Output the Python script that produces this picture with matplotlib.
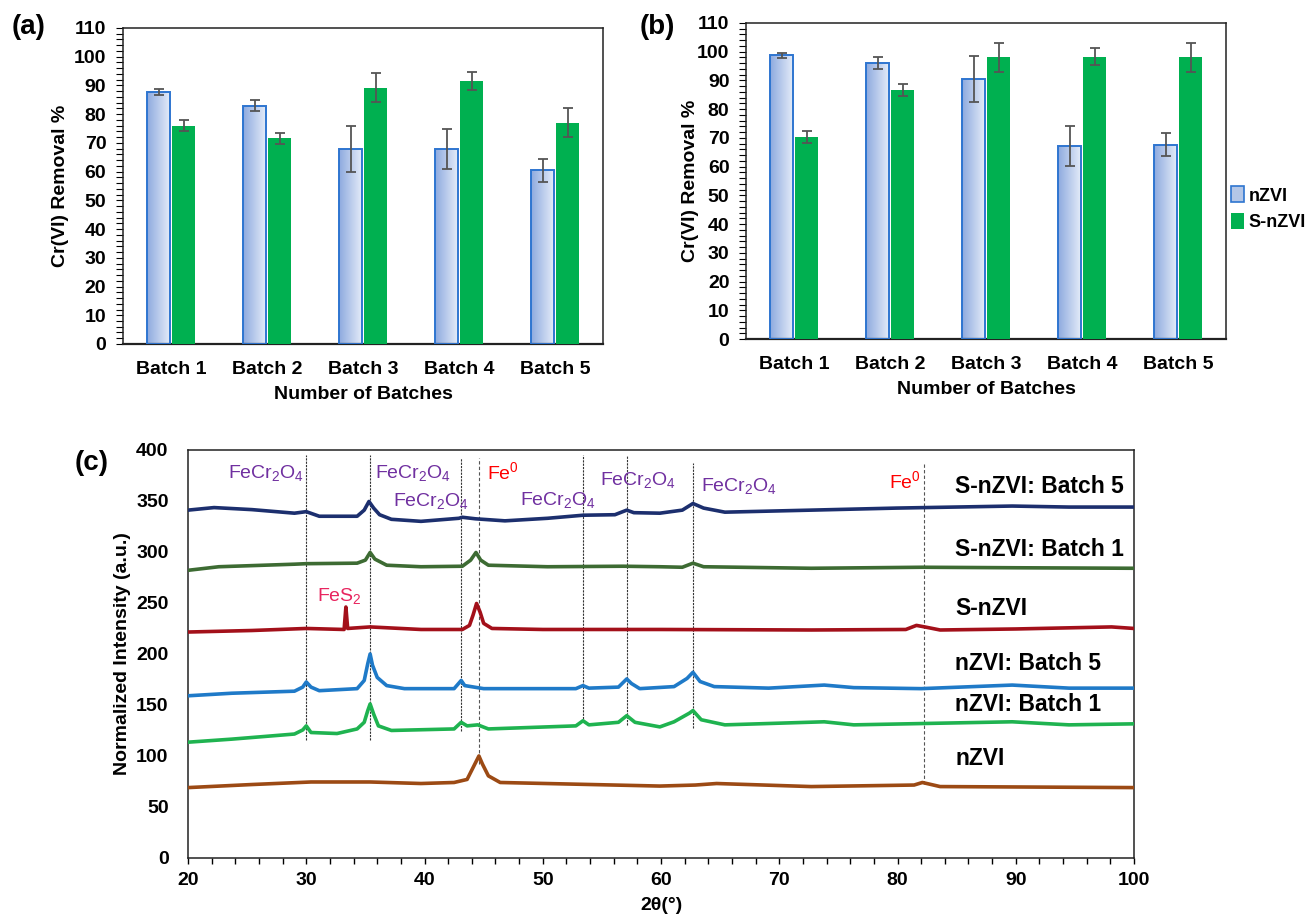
import numpy as np
import matplotlib
matplotlib.use('Agg')
import matplotlib.pyplot as pl
from matplotlib import rcParams
from matplotlib.colors import LinearSegmentedColormap
from matplotlib.patches import Patch
from matplotlib.ticker import MultipleLocator

rcParams['font.family'] = ['Liberation Sans', 'DejaVu Sans']
rcParams['mathtext.fontset'] = 'custom'
rcParams['mathtext.rm'] = 'Liberation Sans'
rcParams['mathtext.it'] = 'Liberation Sans:italic'
rcParams['mathtext.bf'] = 'Liberation Sans:bold'

fontsize = 14

# ---- removal data (panels a, b) ----
batches = ['Batch 1', 'Batch 2', 'Batch 3', 'Batch 4', 'Batch 5']
a_nzvi = [87.8, 83.0, 67.9, 67.9, 60.4]
a_nzvi_err = [1.0, 2.0, 8.0, 7.0, 4.0]
a_snzvi = [76.0, 71.6, 89.2, 91.5, 77.0]
a_snzvi_err = [2.0, 2.0, 5.0, 3.0, 5.0]
b_nzvi = [98.7, 96.1, 90.4, 67.3, 67.6]
b_nzvi_err = [1.0, 2.0, 8.0, 7.0, 4.0]
b_snzvi = [70.3, 86.6, 98.0, 98.2, 98.0]
b_snzvi_err = [2.0, 2.0, 5.0, 3.0, 5.0]

# ---- XRD traces (panel c) ----
tt_snzvi_b5 = [20, 22.2, 25.4, 29, 30, 31.1, 34.3, 34.9, 35.3, 35.7, 36.2, 37.2, 39.7, 42.9, 43.2, 44.3,
               46.8, 50.4, 53.4, 56.1, 57.1, 57.7, 59.9, 61.8, 62.7, 63.6, 65.4, 72.7, 79.9, 89.7, 94.5, 100]
i_snzvi_b5 = [341, 343.5, 341.5, 338, 339.5, 335, 335, 341, 349.5, 343, 336.5, 332, 330, 333, 334, 332.5,
              330.5, 333, 336, 336.5, 341, 338.5, 338, 341, 347.5, 343, 339, 341, 343, 345, 344, 344]
tt_snzvi_b1 = [20, 22.6, 29, 30, 34.3, 35.0, 35.4, 35.8, 36.8, 39.7, 43.2, 43.9, 44.35, 44.75, 45.4,
               50.4, 56.8, 59.9, 61.8, 62.7, 63.6, 72.7, 82.1, 90, 100]
i_snzvi_b1 = [282, 285.5, 288, 288.5, 289, 292, 299.5, 293, 287, 285.5, 286, 292, 299.5, 292, 287,
              285.5, 286, 285.5, 285, 289, 285.5, 284, 285, 284.5, 284]
tt_snzvi = [20, 25.4, 30, 33.2, 33.35, 33.5, 35.4, 39.7, 43.2, 43.8, 44.1, 44.4, 44.7, 45.0, 45.7,
            50, 60, 72.7, 80.7, 81.6, 82.3, 83.6, 90, 98.1, 100]
i_snzvi = [221.5, 223, 225, 224, 246, 225, 226.5, 224, 224, 228, 238, 249.5, 241, 230, 225,
           224, 224, 223.5, 224, 228, 226.5, 223.5, 224.5, 226.5, 225]
tt_nzvi_b5 = [20, 23.7, 29, 29.7, 30, 30.4, 31.1, 34.3, 34.9, 35.2, 35.4, 35.6, 36, 36.8, 38.3, 42.5,
              43.1, 43.4, 45, 52.8, 53.4, 53.9, 56.4, 57.1, 57.5, 58.2, 61.1, 62.2, 62.7, 63.3, 64.5,
              69.1, 73.8, 76.3, 82, 89.7, 94.5, 100]
i_nzvi_b5 = [159, 161.5, 163.5, 167.5, 172.5, 167.5, 164, 166, 174, 190.5, 200, 189, 177, 169, 166, 166,
             174, 169, 166, 166, 169, 166.5, 167.5, 175.5, 171, 166, 168, 176, 182, 173, 168,
             166.5, 169.5, 167, 166, 169.5, 166.5, 166.5]
tt_nzvi_b1 = [20, 23.7, 29, 29.7, 30, 30.4, 32.6, 34.3, 34.9, 35.2, 35.4, 35.7, 36.1, 37.2, 42.5, 43.1,
              43.6, 44.5, 45.4, 52.8, 53.4, 53.9, 56.4, 57.1, 57.8, 59.9, 61.1, 62.4, 62.7, 63.4, 65.4,
              73.8, 76.3, 89.7, 94.5, 100]
i_nzvi_b1 = [113.5, 116.5, 121.5, 125.5, 129.5, 123, 122, 126.5, 133, 144.5, 151, 141, 129.5, 125, 126.5, 133,
             129.5, 130.5, 126.5, 129.5, 134.5, 130.5, 133, 139.5, 133, 128.5, 133.5, 142, 144.5, 135.5, 130.5,
             133.5, 130.5, 133.5, 130.5, 131.5]
tt_nzvi = [20, 25.4, 30.4, 35.4, 39.7, 42.5, 43.6, 44.1, 44.6, 44.9, 45.4, 46.4, 59.9, 62.9, 64.7,
           72.7, 81.4, 82.1, 83.6, 100]
i_nzvi = [69, 72, 74.5, 74.5, 73, 74, 77, 88.5, 100, 92, 80.5, 74, 70.5, 71.5, 73,
          70, 71.5, 74, 70, 69]

# reference lines: 2theta, top, bottom
fecr_lines = [30.0, 35.4, 43.1, 53.4, 57.1, 62.7]
fecr_top = [395, 395, 392, 395, 395, 387]
fecr_bot = [116, 116, 124, 133, 130, 127]
fe_lines = [44.6, 82.2]
fe_top = [392, 387]
fe_bot = [92, 73]

blue_cmap = LinearSegmentedColormap.from_list('nz', ['#8eaadf', '#e3ebf8'])
blue_edge = '#2e75d0'
green = '#00b050'


def removal_panel(ax, nz, nz_err, snz, snz_err):
	x = np.arange(len(batches))
	w = 0.235
	b1 = ax.bar(x - 0.13, nz, w, facecolor='none', edgecolor=blue_edge, linewidth=1.4, zorder=3)
	ax.bar(x + 0.13, snz, w, color=green, zorder=3)
	ax.errorbar(x - 0.13, nz, yerr=nz_err, fmt='none', ecolor='#555555', elinewidth=1.3, capsize=3.5, capthick=1.3, zorder=4)
	ax.errorbar(x + 0.13, snz, yerr=snz_err, fmt='none', ecolor='#555555', elinewidth=1.3, capsize=3.5, capthick=1.3, zorder=4)
	# horizontal gradient fill for the nZVI bars
	grad = np.linspace(0, 1, 64).reshape(1, -1)
	for b in b1:
		x0, y0, bw, bh = b.get_x(), b.get_y(), b.get_width(), b.get_height()
		im = ax.imshow(grad, extent=[x0, x0 + bw, y0, y0 + bh], cmap=blue_cmap, aspect='auto', zorder=2)
		im.set_clip_path(b)
	ax.set_xlim(-0.5, len(batches) - 0.5)
	ax.set_ylim(0, 110)
	ax.set_xticks(x)
	ax.set_xticklabels(batches, fontsize=fontsize, fontweight='bold')
	ax.tick_params(axis='x', length=0, pad=12)
	ax.yaxis.set_major_locator(MultipleLocator(10))
	ax.yaxis.set_minor_locator(MultipleLocator(2))
	ax.tick_params(axis='y', which='both', direction='out', length=5, width=0.8, labelsize=fontsize, pad=7)
	for t in ax.get_yticklabels():
		t.set_fontweight('bold')
	for s in ax.spines.values():
		s.set_color('#222222')
		s.set_linewidth(1.1)
	ax.spines['bottom'].set_linewidth(1.6)
	ax.set_ylabel('Cr(VI) Removal %', fontsize=fontsize, fontweight='bold')
	ax.set_xlabel('Number of Batches', fontsize=fontsize, fontweight='bold')
	ax.xaxis.set_label_coords(0.5, -0.133)


fig = pl.figure(figsize=(13.13, 9.19), dpi=100)

ax_a = fig.add_axes([0.0937, 0.6257, 0.3656, 0.3439])
removal_panel(ax_a, a_nzvi, a_nzvi_err, a_snzvi, a_snzvi_err)
ax_a.yaxis.set_label_coords(-0.112, 0.5)

ax_b = fig.add_axes([0.5682, 0.6311, 0.3656, 0.3439])
removal_panel(ax_b, b_nzvi, b_nzvi_err, b_snzvi, b_snzvi_err)
ax_b.yaxis.set_label_coords(-0.098, 0.5)

handles = [Patch(facecolor='#b4c7e7', edgecolor=blue_edge, linewidth=1.2), Patch(facecolor=green)]
fig.legend(handles, ['nZVI', 'S-nZVI'], loc='center left', bbox_to_anchor=(0.928, 0.773),
           frameon=False, borderpad=0.2, handlelength=0.7, handleheight=1.0, handletextpad=0.25,
           labelspacing=0.45, prop={'size': 13, 'weight': 'bold'})

# ---- panel c ----
ax_c = fig.add_axes([0.1432, 0.0664, 0.7205, 0.4440])
traces = [
	(tt_snzvi_b5, i_snzvi_b5, '#1c2f6e', 'S-nZVI: Batch 5', 364),
	(tt_snzvi_b1, i_snzvi_b1, '#3d6b33', 'S-nZVI: Batch 1', 302),
	(tt_snzvi, i_snzvi, '#a3101a', 'S-nZVI', 245),
	(tt_nzvi_b5, i_nzvi_b5, '#1f7ac8', 'nZVI: Batch 5', 191),
	(tt_nzvi_b1, i_nzvi_b1, '#1fb350', 'nZVI: Batch 1', 150),
	(tt_nzvi, i_nzvi, '#9c4a14', 'nZVI', 98),
]
for tt, ii, col, name, ty in traces:
	ax_c.plot(tt, ii, color=col, linewidth=2.6, solid_joinstyle='round', zorder=3)
	ax_c.text(84.9, ty, name, fontsize=16.5, fontweight='bold', va='center', ha='left', zorder=4)

for xl, yt, yb in zip(fecr_lines, fecr_top, fecr_bot):
	ax_c.plot([xl, xl], [yb, yt], color='#333333', linewidth=0.8, linestyle=(0, (2, 1)), zorder=2)
for xl, yt, yb in zip(fe_lines, fe_top, fe_bot):
	ax_c.plot([xl, xl], [yb, yt], color='#555555', linewidth=0.8, linestyle=(0, (3, 2)), zorder=2)

purple = '#7030a0'
fecr = r'FeCr$_2$O$_4$'
ax_c.text(29.8, 377, fecr, color=purple, fontsize=14, ha='right', va='center')
ax_c.text(35.8, 377, fecr, color=purple, fontsize=14, ha='left', va='center')
ax_c.text(37.3, 350, fecr, color=purple, fontsize=14, ha='left', va='center')
ax_c.text(48.1, 351, fecr, color=purple, fontsize=14, ha='left', va='center')
ax_c.text(54.8, 371, fecr, color=purple, fontsize=14, ha='left', va='center')
ax_c.text(63.4, 365, fecr, color=purple, fontsize=14, ha='left', va='center')
ax_c.text(45.3, 378, r'Fe$^0$', color='#ff0000', fontsize=14, ha='left', va='center')
ax_c.text(82.0, 369, r'Fe$^0$', color='#ff0000', fontsize=14, ha='right', va='center')
ax_c.text(30.9, 257, r'FeS$_2$', color='#e8255f', fontsize=14, ha='left', va='center')

ax_c.set_xlim(20, 100)
ax_c.set_ylim(0, 400)
ax_c.xaxis.set_major_locator(MultipleLocator(10))
ax_c.xaxis.set_minor_locator(MultipleLocator(2))
ax_c.yaxis.set_major_locator(MultipleLocator(50))
ax_c.tick_params(axis='x', which='both', direction='out', length=4, width=1, labelsize=fontsize, pad=6)
ax_c.tick_params(axis='y', length=0, labelsize=fontsize, pad=14)
for t in ax_c.get_xticklabels() + ax_c.get_yticklabels():
	t.set_fontweight('bold')
for s in ax_c.spines.values():
	s.set_color('#222222')
	s.set_linewidth(1.1)
ax_c.set_xlabel('2θ(°)', fontsize=fontsize, fontweight='bold')
ax_c.xaxis.set_label_coords(0.5, -0.095)
ax_c.set_ylabel('Normalized Intensity (a.u.)', fontsize=fontsize, fontweight='bold')
ax_c.yaxis.set_label_coords(-0.06, 0.5)

# panel letters
fig.text(12 / 1313, 1 - 27 / 919, '(a)', fontsize=20, fontweight='bold', va='center', ha='left')
fig.text(640 / 1313, 1 - 27 / 919, '(b)', fontsize=20, fontweight='bold', va='center', ha='left')
fig.text(75 / 1313, 1 - 463 / 919, '(c)', fontsize=20, fontweight='bold', va='center', ha='left')

pl.savefig('out.png', dpi=100)
